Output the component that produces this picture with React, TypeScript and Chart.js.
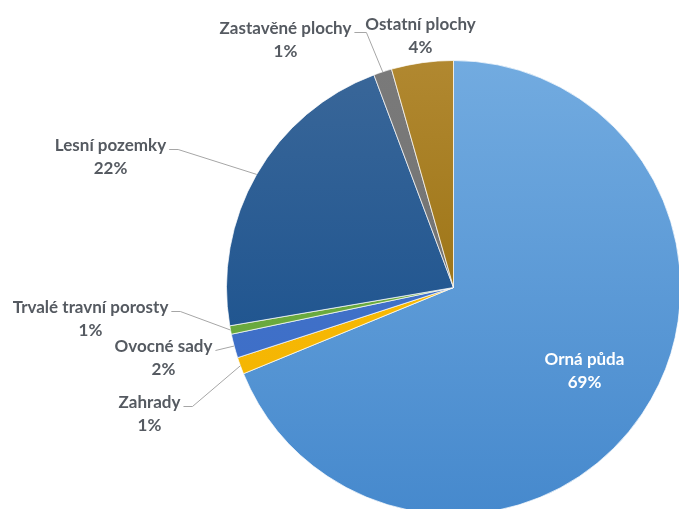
import React, { useEffect, useRef } from "react";
import { Chart, registerables } from "chart.js";

Chart.register(...registerables);

const categories = [
  "Orná půda",
  "Zahrady",
  "Ovocné sady",
  "Trvalé travní porosty",
  "Lesní pozemky",
  "Zastavěné plochy",
  "Ostatní plochy",
];
const shares = [68.8, 1.2, 1.7, 0.6, 22.0, 1.3, 4.4];

// gradient colours per slice (top, bottom of the pie box)
const topColors = ["#72abe0", "#ffc20a", "#4675c8", "#6fae42", "#3a6799", "#7a7a7a", "#b18830"];
const bottomColors = ["#4689cd", "#f0b000", "#3a6cc8", "#66a63a", "#0f4a8a", "#6e6e6e", "#8c6400"];

// label layout: offset of first text line centre from pie centre (px), leader line or not, text colour
const labelLayout = [
  { dx: 131, dy: 72, leader: false, color: "#ffffff", hseg: 0 },
  { dx: -304, dy: 115, leader: true, color: "#555a61", hseg: 9 },
  { dx: -290, dy: 59, leader: true, color: "#555a61", hseg: 0 },
  { dx: -363, dy: 20, leader: true, color: "#555a61", hseg: 9 },
  { dx: -343, dy: -142, leader: true, color: "#555a61", hseg: 9 },
  { dx: -168, dy: -259, leader: true, color: "#555a61", hseg: 12 },
  { dx: -33, dy: -263, leader: false, color: "#555a61", hseg: 0 },
];

const FONT = "bold 17px Lato, 'Open Sans', sans-serif";
const LINE_GAP = 23;

const labelPlugin = {
  id: "pieLabels",
  afterDatasetsDraw(chart: any) {
    const ctx = chart.ctx as CanvasRenderingContext2D;
    const meta = chart.getDatasetMeta(0);
    const data = chart.data.datasets[0].data as number[];
    const total = data.reduce((a, b) => a + b, 0);
    ctx.save();
    ctx.font = FONT;
    ctx.textAlign = "center";
    ctx.textBaseline = "middle";
    meta.data.forEach((arc: any, i: number) => {
      const lay = labelLayout[i];
      const cx = arc.x;
      const cy = arc.y;
      const tx = cx + lay.dx;
      const ty = cy + lay.dy;
      const name = chart.data.labels[i] as string;
      const pct = Math.round((data[i] / total) * 100) + "%";
      if (lay.leader) {
        const mid = (arc.startAngle + arc.endAngle) / 2;
        const ex = cx + Math.cos(mid) * arc.outerRadius;
        const ey = cy + Math.sin(mid) * arc.outerRadius;
        const w = ctx.measureText(name).width;
        const sx = tx + w / 2 + 3;
        const sy = ty + 4;
        ctx.strokeStyle = "#a6a6a6";
        ctx.lineWidth = 1;
        ctx.beginPath();
        ctx.moveTo(sx, sy);
        ctx.lineTo(sx + lay.hseg, sy);
        ctx.lineTo(ex, ey);
        ctx.stroke();
      }
      ctx.fillStyle = lay.color;
      ctx.fillText(name, tx, ty);
      ctx.fillText(pct, tx, ty + LINE_GAP);
    });
    ctx.restore();
  },
};

export default function App() {
  const ref = useRef<HTMLCanvasElement | null>(null);
  useEffect(() => {
    if (!ref.current) return;
    const chart = new Chart(ref.current, {
      type: "pie",
      data: {
        labels: categories,
        datasets: [
          {
            data: shares,
            backgroundColor: (c: any) => {
              const area = c.chart.chartArea;
              const i = c.dataIndex;
              if (!area) return topColors[i];
              const g = c.chart.ctx.createLinearGradient(0, area.top, 0, area.bottom);
              g.addColorStop(0, topColors[i]);
              g.addColorStop(1, bottomColors[i]);
              return g;
            },
            borderColor: "rgba(255,255,255,0.7)",
            borderWidth: 1,
          },
        ],
      },
      options: {
        responsive: false,
        animation: false,
        layout: { padding: { left: 226, top: 60, right: 19, bottom: 5 } },
        plugins: {
          legend: { display: false },
          tooltip: { enabled: false },
        },
      },
      plugins: [labelPlugin],
    });
    return () => chart.destroy();
  }, []);
  return (
    <div
      style={{
        position: "absolute",
        left: 0,
        top: 0,
        width: 679,
        height: 509,
        overflow: "hidden",
        background: "#ffffff",
      }}
    >
      <canvas ref={ref} width={700} height={520} style={{ display: "block" }} />
    </div>
  );
}
